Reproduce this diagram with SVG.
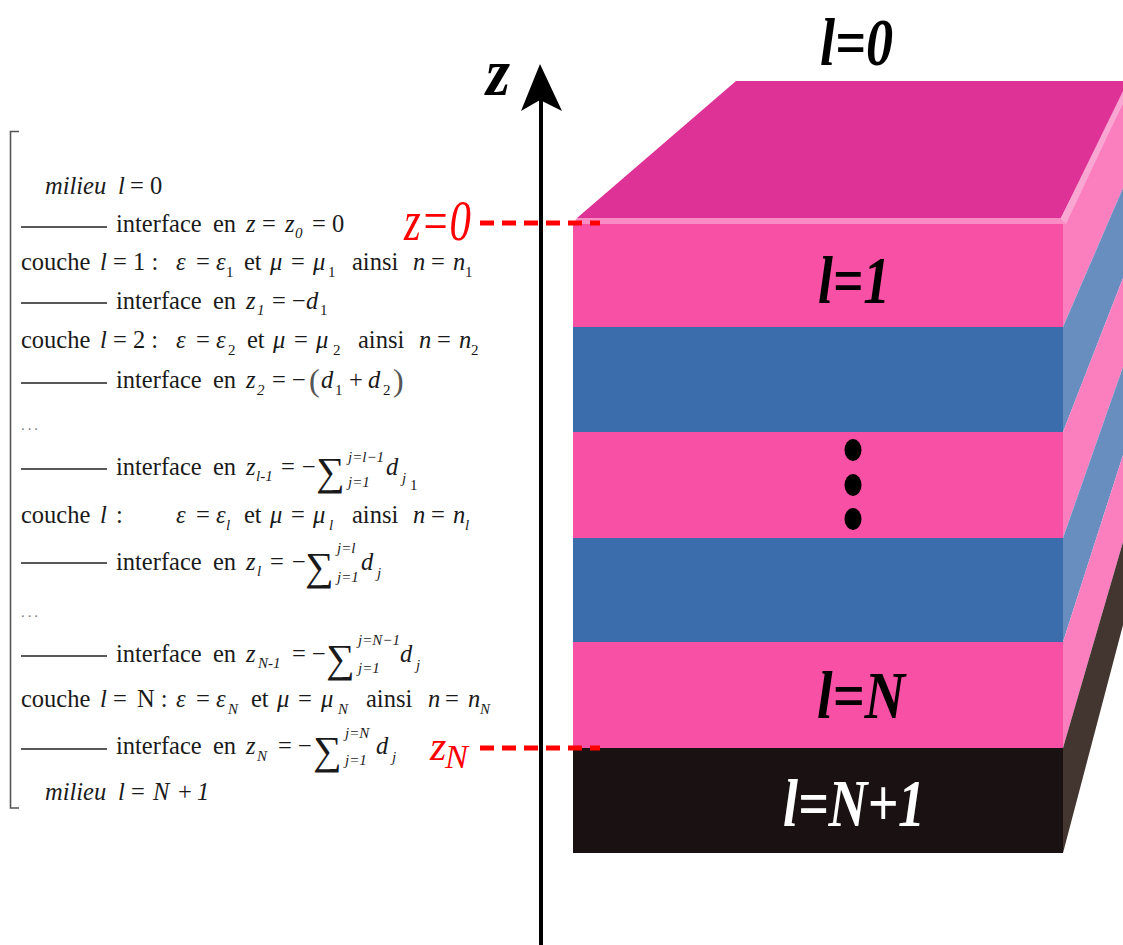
<svg xmlns="http://www.w3.org/2000/svg" width="1123" height="945" viewBox="0 0 1123 945">
<style>
text{font-family:"Liberation Serif","Times New Roman",serif;fill:#1a1a1a;font-size:24.5px}
.i{font-style:italic}
.s{font-size:15px}
.si{font-size:15px;font-style:italic}
.sig{font-size:40px}
.big{font-size:67px;font-weight:bold;font-style:italic;fill:#000}
.red{fill:#f00;font-style:italic}
.rule{stroke:#222;stroke-width:1.6;fill:none}
.pk{fill:#f850a5}.bl{fill:#3b6dad}.spk{fill:#fb7fbf}.sbl{fill:#688dbf}
.dash{stroke:#f00;stroke-width:5;stroke-dasharray:14 8;fill:none}
</style>
<g id="stack">
<g id="layer-side">
<polygon points="1063,224 1123,103 1123,188 1063,327" class="spk"/>
<polygon points="1063,327 1123,188 1123,278 1063,432" class="sbl"/>
<polygon points="1063,432 1123,278 1123,367 1063,538" class="spk"/>
<polygon points="1063,538 1123,367 1123,455 1063,642" class="sbl"/>
<polygon points="1063,642 1123,455 1123,542 1063,748" class="spk"/>
<polygon points="1063,748 1123,542 1123,625 1063,853" fill="#43352f"/>
</g>
<g id="layer-0"><polygon points="577,218 736,81 1123,81 1123,95 1061,218" fill="#de3296"/>
<polygon points="577,218 1061,218 1066,224 573,224" fill="#f98cc4"/>
<polygon points="1061,218 1123,91 1123,103 1066,224" fill="#f9a6d3"/></g>
<g id="layer-1"><rect x="573" y="224" width="490" height="103" class="pk"/><text x="818" y="303" class="big" textLength="72" lengthAdjust="spacingAndGlyphs">l=1</text></g>
<g id="layer-2"><rect x="573" y="327" width="490" height="105" class="bl"/></g>
<g id="layer-3"><rect x="573" y="432" width="490" height="106" class="pk"/><ellipse cx="853" cy="450" rx="8.500" ry="11"/><ellipse cx="853" cy="485" rx="8.500" ry="11"/><ellipse cx="853" cy="519" rx="8.500" ry="11"/></g>
<g id="layer-4"><rect x="573" y="538" width="490" height="104" class="bl"/></g>
<g id="layer-N"><rect x="573" y="642" width="490" height="106" class="pk"/><text x="817" y="718" class="big" textLength="88" lengthAdjust="spacingAndGlyphs">l=N</text></g>
<g id="layer-N1"><rect x="573" y="748" width="490" height="105" fill="#1a1212"/><text x="783" y="826" class="big" style="fill:#fff" textLength="142" lengthAdjust="spacingAndGlyphs">l=N+1</text></g>
<text id="label-l0" x="820" y="65" class="big" textLength="73" lengthAdjust="spacingAndGlyphs">l=0</text>
</g>
<g id="connectors">
<line x1="541" y1="945" x2="541" y2="90" stroke="#000" stroke-width="4"/>
<polygon points="540,64 562,111 540,100 521,111" fill="#000"/>
<line class="dash" x1="480" y1="223" x2="600" y2="223"/>
<line class="dash" x1="480" y1="748" x2="600" y2="748"/>
</g>
<g id="axis-labels">
<text x="486" y="95" class="big" textLength="24" lengthAdjust="spacingAndGlyphs">z</text>
<text x="404" y="240" class="red" style="font-size:56px" textLength="67" lengthAdjust="spacingAndGlyphs">z=0</text>
<text x="430" y="760" class="red" style="font-size:42px">z</text>
<text x="445" y="768" class="red" style="font-size:34px" textLength="23" lengthAdjust="spacingAndGlyphs">N</text>
</g>
<g id="equations">
<path class="rule" d="M19,131.500H10.500V808H19" style="stroke:#555"/>
<path class="rule" d="M21,227H107M21,303H107M21,383H107M21,469H107M21,563H107M21,656H107M21,749H107"/>
<text y="194"><tspan x="45" class="i">milieu</tspan><tspan x="118" class="i">l</tspan><tspan x="130">= 0</tspan></text>
<text y="232"><tspan x="116">interface</tspan><tspan x="213">en</tspan><tspan x="246" class="i">z</tspan><tspan x="262">=</tspan><tspan x="285" class="i">z</tspan><tspan x="295" y="238" class="si">0</tspan><tspan x="312" y="232">= 0</tspan></text>
<text y="270"><tspan x="21">couche</tspan><tspan x="100" class="i">l</tspan><tspan x="113">=</tspan><tspan x="133">1 :</tspan><tspan x="176" class="i">ε</tspan><tspan x="196">=</tspan><tspan x="216" class="i">ε</tspan><tspan x="226" y="277" class="s">1</tspan><tspan x="244" y="270">et</tspan><tspan x="270" class="i">μ</tspan><tspan x="291">=</tspan><tspan x="313" class="i">μ</tspan><tspan x="328" y="277" class="s">1</tspan><tspan x="352" y="270">ainsi</tspan><tspan x="413" class="i">n</tspan><tspan x="431">=</tspan><tspan x="453" class="i">n</tspan><tspan x="465" y="277" class="s">1</tspan></text>
<text y="309"><tspan x="116">interface</tspan><tspan x="213">en</tspan><tspan x="246" class="i">z</tspan><tspan x="257" y="315" class="si">1</tspan><tspan x="272" y="309">=</tspan><tspan x="292">−</tspan><tspan x="306" class="i">d</tspan><tspan x="320" y="315" class="s">1</tspan></text>
<text y="348"><tspan x="21">couche</tspan><tspan x="100" class="i">l</tspan><tspan x="113">= 2 :</tspan><tspan x="176" class="i">ε</tspan><tspan x="196">=</tspan><tspan x="216" class="i">ε</tspan><tspan x="228" y="355" class="s">2</tspan><tspan x="247" y="348">et</tspan><tspan x="273" class="i">μ</tspan><tspan x="294">=</tspan><tspan x="316" class="i">μ</tspan><tspan x="333" y="355" class="s">2</tspan><tspan x="358" y="348">ainsi</tspan><tspan x="419" class="i">n</tspan><tspan x="437">=</tspan><tspan x="459" class="i">n</tspan><tspan x="471" y="355" class="s">2</tspan></text>
<text y="388"><tspan x="116">interface</tspan><tspan x="213">en</tspan><tspan x="246" class="i">z</tspan><tspan x="257" y="395" class="si">2</tspan><tspan x="272" y="388">=</tspan><tspan x="292">−</tspan><tspan x="309" style="font-size:32px;fill:#555" y="391">(</tspan><tspan x="321" y="388" class="i">d</tspan><tspan x="335" y="395" class="s">1</tspan><tspan x="349" y="388">+</tspan><tspan x="368" class="i">d</tspan><tspan x="383" y="395" class="s">2</tspan><tspan x="393" style="font-size:32px;fill:#555" y="391">)</tspan></text>
<text x="21" y="430" style="fill:#777;font-size:15px" textLength="17">...</text>
<text y="475"><tspan x="116">interface</tspan><tspan x="213">en</tspan><tspan x="246" class="i">z</tspan><tspan x="256" y="481" class="si">l-1</tspan><tspan x="281" y="475">=</tspan><tspan x="302">−</tspan><tspan x="316" y="485" class="sig">∑</tspan><tspan x="348" y="462" class="si">j=l−1</tspan><tspan x="348" y="487" class="si">j=1</tspan><tspan x="386" y="475" class="i">d</tspan><tspan x="402" y="483" class="si">j</tspan><tspan x="410" y="490" class="s">1</tspan></text>
<text y="523"><tspan x="21">couche</tspan><tspan x="100" class="i">l</tspan><tspan x="116">:</tspan><tspan x="176" class="i">ε</tspan><tspan x="196">=</tspan><tspan x="216" class="i">ε</tspan><tspan x="226" y="530" class="si">l</tspan><tspan x="244" y="523">et</tspan><tspan x="270" class="i">μ</tspan><tspan x="291">=</tspan><tspan x="313" class="i">μ</tspan><tspan x="329" y="530" class="si">l</tspan><tspan x="352" y="523">ainsi</tspan><tspan x="413" class="i">n</tspan><tspan x="431">=</tspan><tspan x="453" class="i">n</tspan><tspan x="465" y="530" class="si">l</tspan></text>
<text y="570"><tspan x="116">interface</tspan><tspan x="213">en</tspan><tspan x="246" class="i">z</tspan><tspan x="257" y="576" class="si">l</tspan><tspan x="270" y="570">=</tspan><tspan x="292">−</tspan><tspan x="305" y="580" class="sig">∑</tspan><tspan x="337" y="553" class="si">j=l</tspan><tspan x="337" y="582" class="si">j=1</tspan><tspan x="361" y="570" class="i">d</tspan><tspan x="377" y="578" class="si">j</tspan></text>
<text x="21" y="617" style="fill:#777;font-size:15px" textLength="17">...</text>
<text y="662"><tspan x="116">interface</tspan><tspan x="213">en</tspan><tspan x="246" class="i">z</tspan><tspan x="258" y="668" class="si">N-1</tspan><tspan x="292" y="662">=</tspan><tspan x="312">−</tspan><tspan x="326" y="672" class="sig">∑</tspan><tspan x="358" y="645" class="si">j=N−1</tspan><tspan x="358" y="673" class="si">j=1</tspan><tspan x="400" y="662" class="i">d</tspan><tspan x="416" y="670" class="si">j</tspan></text>
<text y="707"><tspan x="21">couche</tspan><tspan x="100" class="i">l</tspan><tspan x="113">=</tspan><tspan x="137">N :</tspan><tspan x="176" class="i">ε</tspan><tspan x="196">=</tspan><tspan x="216" class="i">ε</tspan><tspan x="228" y="714" class="si">N</tspan><tspan x="251" y="707">et</tspan><tspan x="277" class="i">μ</tspan><tspan x="298">=</tspan><tspan x="321" class="i">μ</tspan><tspan x="338" y="714" class="si">N</tspan><tspan x="366" y="707">ainsi</tspan><tspan x="428" class="i">n</tspan><tspan x="445">=</tspan><tspan x="468" class="i">n</tspan><tspan x="480" y="714" class="si">N</tspan></text>
<text y="754"><tspan x="116">interface</tspan><tspan x="213">en</tspan><tspan x="246" class="i">z</tspan><tspan x="257" y="761" class="si">N</tspan><tspan x="278" y="754">=</tspan><tspan x="298">−</tspan><tspan x="313" y="764" class="sig">∑</tspan><tspan x="345" y="738" class="si">j=N</tspan><tspan x="345" y="765" class="si">j=1</tspan><tspan x="376" y="754" class="i">d</tspan><tspan x="392" y="762" class="si">j</tspan></text>
<text y="800"><tspan x="45" class="i">milieu</tspan><tspan x="118" class="i">l</tspan><tspan x="131">=</tspan><tspan x="153" class="i">N</tspan><tspan x="178">+</tspan><tspan x="197" class="i">1</tspan></text>
</g>
</svg>
